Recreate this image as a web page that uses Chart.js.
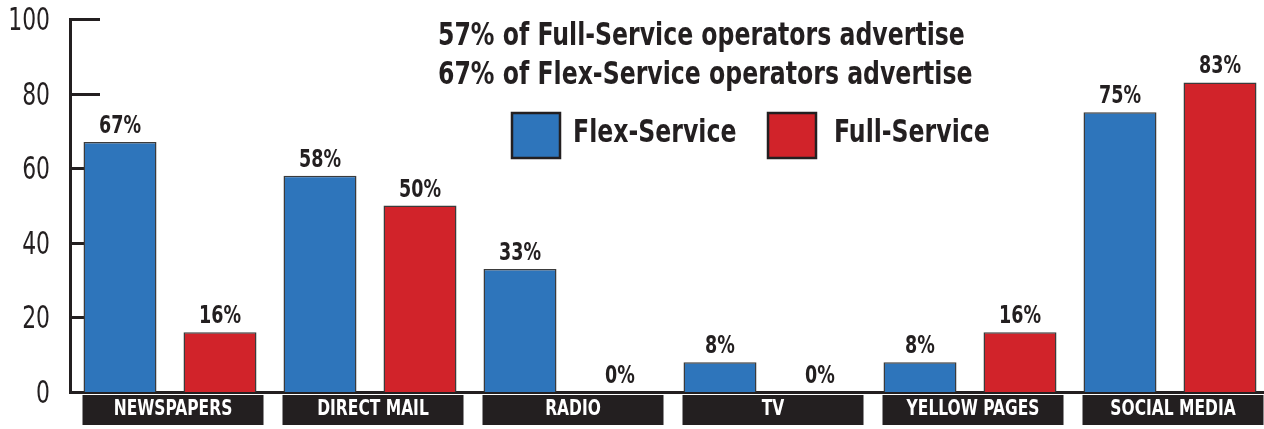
<!DOCTYPE html>
<html>
<head>
<meta charset="utf-8">
<script src="https://cdn.jsdelivr.net/npm/chart.js@4/dist/chart.umd.min.js"></script>
<style>
  html, body { margin: 0; padding: 0; background: #fff; overflow: hidden; }
  #wrap { width: 1270px; height: 429px; position: relative; }
</style>
</head>
<body>
<div id="wrap"><canvas id="chart"></canvas></div>
<script>
const categories = ["NEWSPAPERS", "DIRECT MAIL", "RADIO", "TV", "YELLOW PAGES", "SOCIAL MEDIA"];
const flexValues = [67, 58, 33, 8, 8, 75];
const fullValues = [16, 50, 0, 0, 16, 83];
const yTicks = [0, 20, 40, 60, 80, 100];
const seriesNames = ["Flex-Service", "Full-Service"];
const titleLines = [
  "57% of Full-Service operators advertise",
  "67% of Flex-Service operators advertise"
];

const FONT = "'DejaVu Sans Condensed', 'Liberation Sans Narrow', sans-serif";
const INK = "#231f20";
const BLUE = "#2e75bb";
const RED = "#d1232a";

// the original type is a narrow grotesque; squeeze DejaVu horizontally
function squeezeText(ctx, text, x, y, sx) {
  ctx.save();
  ctx.translate(x, y);
  ctx.scale(sx, 1);
  ctx.fillText(text, 0, 0);
  ctx.restore();
}

// y labels and inward tick marks, drawn before the bars so bars cover the ticks
const yAxisMarks = {
  id: "yAxisMarks",
  beforeDatasetsDraw(chart) {
    const ctx = chart.ctx;
    const y = chart.scales.y;
    const left = chart.chartArea.left;
    ctx.save();
    ctx.strokeStyle = INK;
    ctx.lineWidth = 3;
    ctx.fillStyle = INK;
    ctx.font = "32px " + FONT;
    ctx.textAlign = "right";
    ctx.textBaseline = "middle";
    yTicks.forEach(v => {
      const py = Math.round(y.getPixelForValue(v)) + 0.5;
      squeezeText(ctx, String(v), left - 20, py + 2, 0.76);
      if (v === 0) return;
      ctx.beginPath();
      ctx.moveTo(left - 1, py);
      ctx.lineTo(left + 30, py);
      ctx.stroke();
    });
    ctx.restore();
  }
};

const extras = {
  id: "extras",
  afterDraw(chart) {
    const ctx = chart.ctx;
    const area = chart.chartArea;
    ctx.save();

    // value labels
    ctx.fillStyle = INK;
    ctx.font = "bold 25px " + FONT;
    ctx.textAlign = "center";
    ctx.textBaseline = "alphabetic";
    chart.data.datasets.forEach((ds, i) => {
      chart.getDatasetMeta(i).data.forEach((bar, j) => {
        squeezeText(ctx, ds.data[j] + "%", bar.x, bar.y - 9, 0.78);
      });
    });

    // category boxes
    const firstMeta = chart.getDatasetMeta(0).data;
    categories.forEach((c, j) => {
      const bar = firstMeta[j];
      const bx = bar.x - bar.width / 2 - 1;
      ctx.fillStyle = INK;
      ctx.fillRect(bx, area.bottom + 3, 181, 30);
      ctx.fillStyle = "#fff";
      ctx.font = "bold 21px " + FONT;
      ctx.textBaseline = "middle";
      squeezeText(ctx, c, bx + 90.5, area.bottom + 18, 0.82);
    });

    // title lines
    ctx.fillStyle = INK;
    ctx.textAlign = "left";
    ctx.textBaseline = "middle";
    ctx.font = "bold 32px " + FONT;
    squeezeText(ctx, titleLines[0], 438, 37, 0.82);
    squeezeText(ctx, titleLines[1], 438, 76, 0.82);

    // legend
    const items = [
      { name: seriesNames[0], color: BLUE, bx: 512, tx: 573 },
      { name: seriesNames[1], color: RED, bx: 768, tx: 834 }
    ];
    items.forEach(it => {
      ctx.fillStyle = it.color;
      ctx.fillRect(it.bx, 113, 48, 45);
      ctx.strokeStyle = INK;
      ctx.lineWidth = 2.5;
      ctx.strokeRect(it.bx, 113, 48, 45);
      ctx.fillStyle = INK;
      squeezeText(ctx, it.name, it.tx, 134, 0.82);
    });
    ctx.restore();
  }
};

new Chart(document.getElementById("chart"), {
  type: "bar",
  data: {
    labels: categories,
    datasets: [
      {
        label: seriesNames[0],
        data: flexValues,
        backgroundColor: BLUE,
        borderColor: "#3b3b3b",
        borderWidth: 1.5,
        categoryPercentage: 1,
        barPercentage: 0.73
      },
      {
        label: seriesNames[1],
        data: fullValues,
        backgroundColor: RED,
        borderColor: "#3b3b3b",
        borderWidth: 1.5,
        categoryPercentage: 1,
        barPercentage: 0.73
      }
    ]
  },
  options: {
    responsive: true,
    maintainAspectRatio: false,
    animation: false,
    layout: { padding: { top: 19, bottom: 37, right: 0, left: 0 } },
    plugins: { legend: { display: false }, tooltip: { enabled: false } },
    scales: {
      x: {
        ticks: { display: false },
        grid: { display: false, drawTicks: false },
        border: { display: true, color: INK, width: 3 }
      },
      y: {
        min: 0,
        max: 100,
        afterFit(scale) { scale.width = 70; },
        ticks: { display: false, stepSize: 20 },
        grid: { display: false, drawTicks: false },
        border: { display: true, color: INK, width: 3 }
      }
    }
  },
  plugins: [yAxisMarks, extras]
});
</script>
</body>
</html>
